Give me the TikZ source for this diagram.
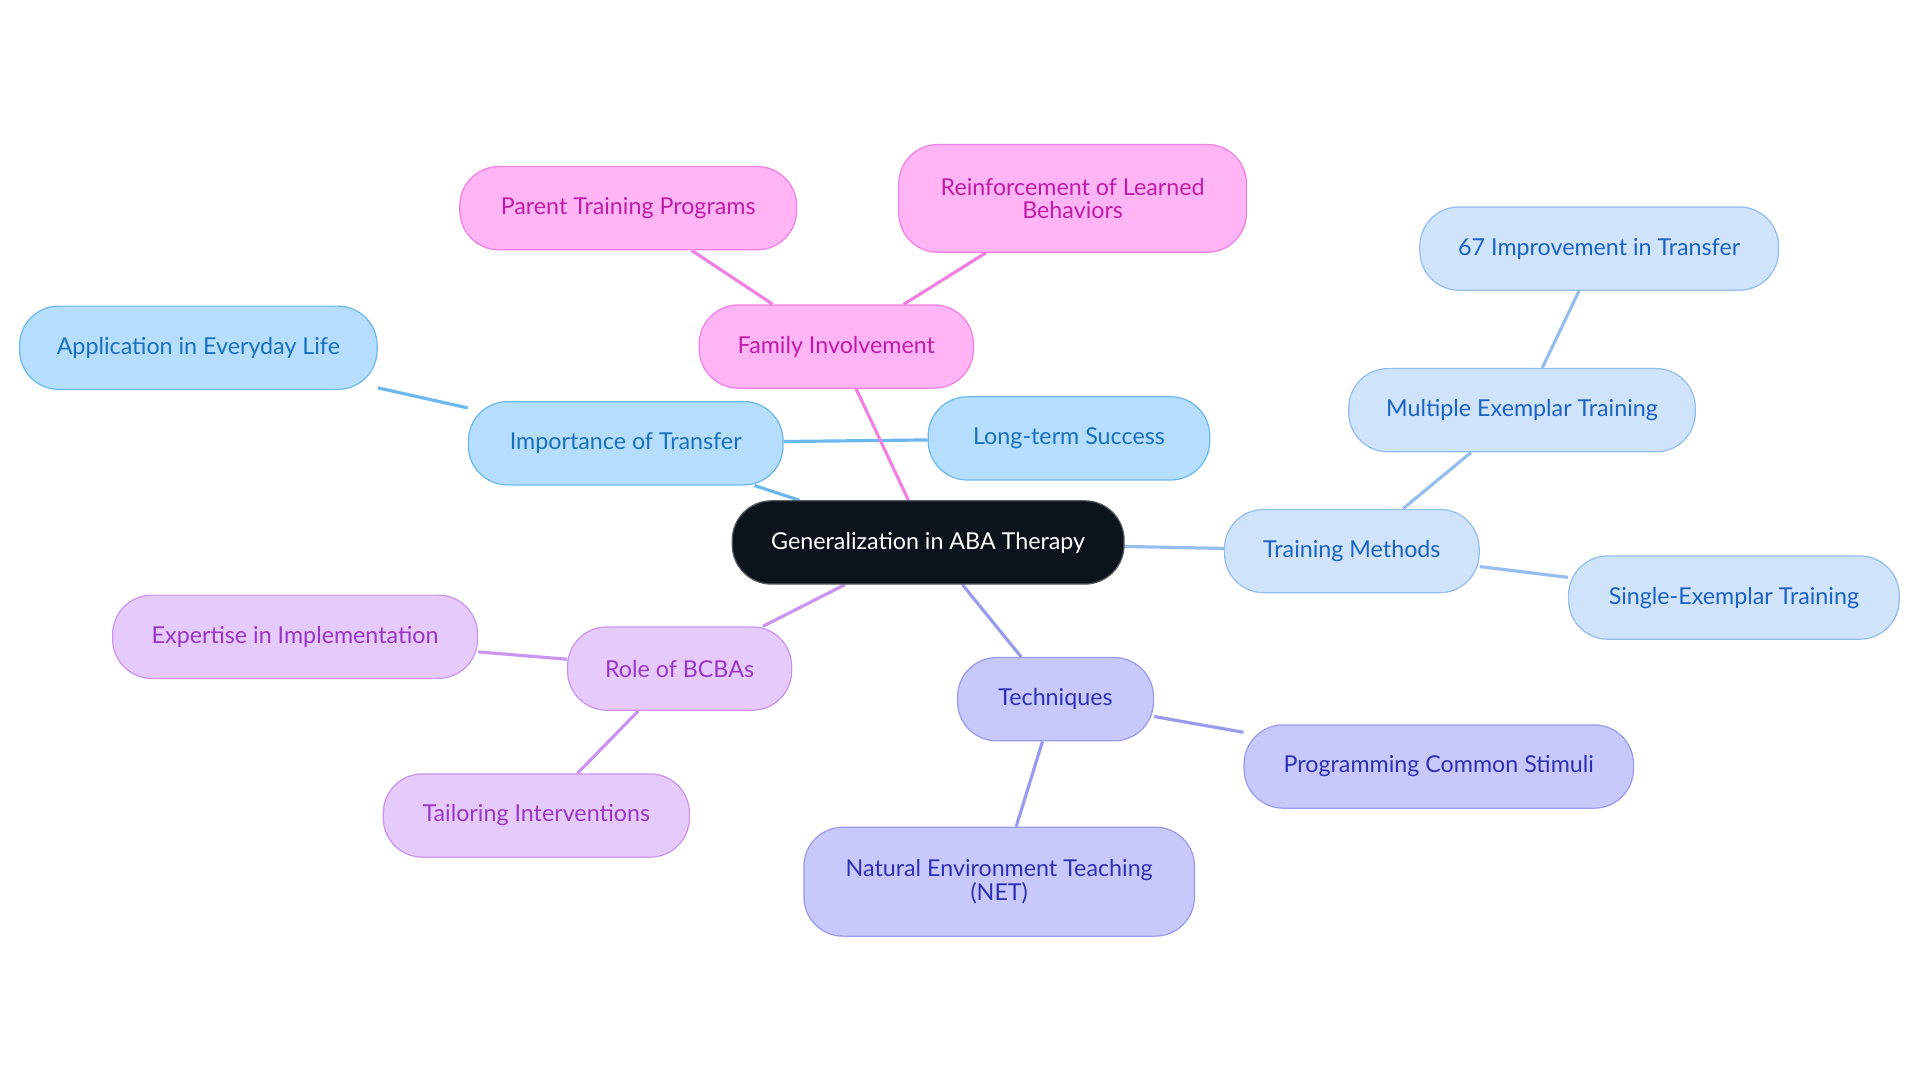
\documentclass[tikz,border=0pt]{standalone}
\usepackage{fontspec}
\setmainfont{Lato}
\usetikzlibrary{backgrounds}
\definecolor{cen}{HTML}{0D131B}
\definecolor{bF}{HTML}{B5DEFC}\definecolor{bD}{HTML}{6CB8EE}\definecolor{bT}{HTML}{1A6FC0}
\definecolor{pF}{HTML}{FFB5F5}\definecolor{pD}{HTML}{F080E2}\definecolor{pT}{HTML}{C01CA6}
\definecolor{lF}{HTML}{CFE3FA}\definecolor{lD}{HTML}{93BEEE}\definecolor{lT}{HTML}{1C62C6}
\definecolor{vF}{HTML}{C8C8FC}\definecolor{vD}{HTML}{9A9AEE}\definecolor{vT}{HTML}{3030B6}
\definecolor{uF}{HTML}{E6CAFC}\definecolor{uD}{HTML}{CB94F0}\definecolor{uT}{HTML}{9836CA}
\tikzset{
 box/.style={rounded corners=16pt,minimum height=34pt,align=center,font=\fontsize{9.5}{9.5}\selectfont,line width=0.5pt},
 bb/.style={box,fill=bF,draw=bD,text=bT}, pb/.style={box,fill=pF,draw=pD,text=pT},
 lb/.style={box,fill=lF,draw=lD,text=lT}, vb/.style={box,fill=vF,draw=vD,text=vT},
 ub/.style={box,fill=uF,draw=uD,text=uT},
 ed/.style={line width=1.3pt}
}
\begin{document}
\begin{tikzpicture}[x=0.5pt,y=-0.5pt]
\useasboundingbox (0,0) rectangle (1568,884);
\node[box,fill=cen,draw=cen!70,text=white,minimum width=160pt] (c) at (758,443) {Generalization in ABA Therapy};
\node[bb,minimum width=128.5pt] (it) at (511,362) {Importance of Transfer};
\node[bb,minimum width=146pt] (ae) at (162,284) {Application in Everyday Life};
\node[bb,minimum width=115pt] (ls) at (873,358) {Long-term Success};
\node[pb,minimum width=112pt] (fi) at (683,283) {Family Involvement};
\node[pb,minimum width=137.5pt] (pt) at (513,170) {Parent Training Programs};
\node[pb,minimum width=142pt,minimum height=44pt] (rl) at (876,162) {Reinforcement of Learned\\Behaviors};
\node[lb,minimum width=104pt] (tm) at (1104,450) {Training Methods};
\node[lb,minimum width=141.5pt] (me) at (1243,335) {Multiple Exemplar Training};
\node[lb,minimum width=146.5pt] (im) at (1306,203) {67 Improvement in Transfer};
\node[lb,minimum width=135pt] (se) at (1416,488) {Single-Exemplar Training};
\node[vb,minimum width=80pt] (te) at (862,571) {Techniques};
\node[vb,minimum width=159pt] (pc) at (1175,626) {Programming Common Stimuli};
\node[vb,minimum width=159.5pt,minimum height=44.5pt] (ne) at (816,720) {Natural Environment Teaching\\(NET)};
\node[ub,minimum width=91.5pt] (rb) at (555,546) {Role of BCBAs};
\node[ub,minimum width=149pt] (ex) at (241,520) {Expertise in Implementation};
\node[ub,minimum width=125pt] (ti) at (438,666) {Tailoring Interventions};
\begin{scope}[on background layer]
\draw[ed,bD] (c) -- (it); \draw[ed,bD] (it) -- (ae); \draw[ed,bD] (it) -- (ls);
\draw[ed,pD] (c) -- (fi); \draw[ed,pD] (fi) -- (pt); \draw[ed,pD] (fi) -- (rl);
\draw[ed,lD] (c) -- (tm); \draw[ed,lD] (tm) -- (me); \draw[ed,lD] (me) -- (im); \draw[ed,lD] (tm) -- (se);
\draw[ed,vD] (c) -- (te); \draw[ed,vD] (te) -- (pc); \draw[ed,vD] (te) -- (ne);
\draw[ed,uD] (c) -- (rb); \draw[ed,uD] (rb) -- (ex); \draw[ed,uD] (rb) -- (ti);
\end{scope}
\end{tikzpicture}
\end{document}
